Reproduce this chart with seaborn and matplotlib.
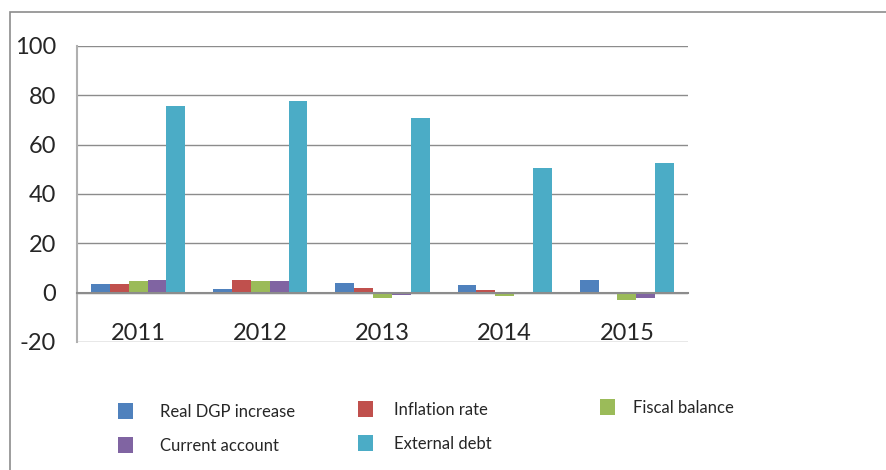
import matplotlib
matplotlib.use("Agg")
import matplotlib.pyplot as plt
import matplotlib.patches as mpatches
import seaborn as sns
import pandas as pd
import numpy as np

years = ["2011", "2012", "2013", "2014", "2015"]
series = ["Real DGP increase", "Inflation rate", "Fiscal balance", "Current account", "External debt"]
real_gdp = [3.4, 1.3, 3.8, 3.0, 5.0]
inflation = [3.4, 5.0, 1.75, 0.95, -0.55]
fiscal = [4.6, 4.6, -2.2, -1.35, -3.0]
current = [5.0, 4.6, -0.95, -0.7, -2.2]
external = [75.5, 77.8, 70.7, 50.4, 52.4]
colors = ["#4F81BD", "#C0504D", "#9BBB59", "#8064A2", "#4BACC6"]
yticks = [-20, 0, 20, 40, 60, 80, 100]

rows = []
for name, vals in zip(series, [real_gdp, inflation, fiscal, current, external]):
    for y, v in zip(years, vals):
        rows.append({"Year": y, "Series": name, "Value": v})
df = pd.DataFrame(rows)

sns.set_theme(style="white")
plt.rcParams["font.family"] = ["Lato", "DejaVu Sans"]

fig = plt.figure(figsize=(8.86, 4.70), dpi=100)
ax = fig.add_axes([77/886, 1-342/470, (688-77)/886, (342-46)/470])

sns.barplot(data=df, x="Year", y="Value", hue="Series", hue_order=series,
            palette=colors, width=0.77, gap=0, saturation=1, ax=ax, legend=False,
            errorbar=None, linewidth=0)

ax.set_ylim(-20, 100)
ax.set_xlim(-0.5, 4.5)
ax.set_yticks(yticks)
ax.set_yticklabels([str(t) for t in yticks], fontsize=17)
ax.yaxis.grid(True, color="#8c8c8c", linewidth=1)
ax.set_axisbelow(True)
ax.set_xlabel("")
ax.set_ylabel("")

for s in ["top", "right"]:
    ax.spines[s].set_visible(False)
ax.spines["left"].set_color("#b0b0b0")
ax.spines["left"].set_linewidth(1.5)
ax.spines["bottom"].set_position(("data", 0))
ax.spines["bottom"].set_color("#8c8c8c")
ax.spines["bottom"].set_linewidth(1.5)

ax.tick_params(axis="y", which="major", length=7, color="#8c8c8c", width=1, pad=8)
ax.set_xticks(range(len(years)))
ax.set_xticklabels(years, fontsize=17)
ax.tick_params(axis="x", which="major", length=0, pad=22)
ax.set_xticks(np.arange(-0.5, 5.0, 1.0), minor=True)
ax.tick_params(axis="x", which="minor", length=7, color="#b0b0b0", width=1.5)

# chart border
fig.add_artist(mpatches.Rectangle((10/886, -0.05), 1.0, 1 - 12/470 + 0.05,
               transform=fig.transFigure, fill=False, edgecolor="#8c8c8c", linewidth=1.2))

handles = [mpatches.Patch(facecolor=c, edgecolor="none") for c in colors]
cols = [([0, 3], 118, 403, 1.6), ([1, 4], 358, 401, 1.25), ([2], 600, 399, 1.1)]
for idx, xpix, ypix, pad in cols:
    fig.legend([handles[i] for i in idx], [series[i] for i in idx],
               loc="upper left", bbox_to_anchor=(xpix/886, 1-ypix/470),
               frameon=False, fontsize=12, handlelength=0.9, handleheight=1.1,
               handletextpad=pad, labelspacing=1.05, borderpad=0, borderaxespad=0)

fig.savefig("out.png", dpi=100)
